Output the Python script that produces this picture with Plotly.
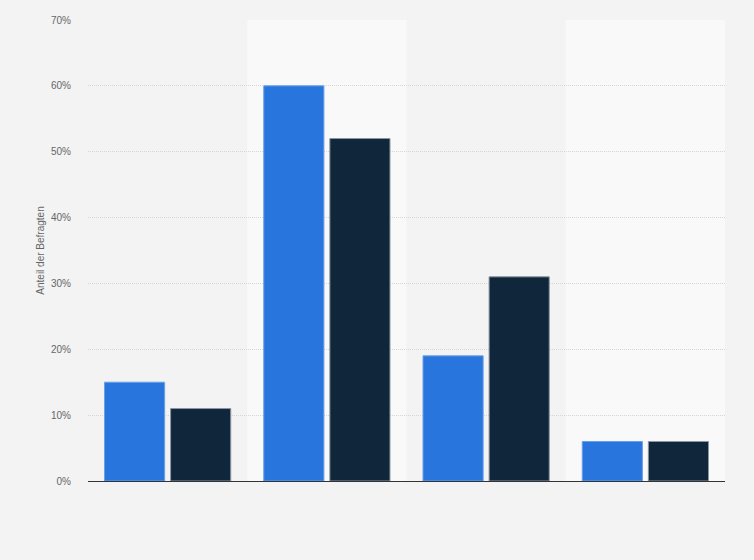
import plotly.graph_objects as go

categories = ["Kategorie 1", "Kategorie 2", "Kategorie 3", "Kategorie 4"]
series_a = [15, 60, 19, 6]
series_b = [11, 52, 31, 6]
y_ticks = [0, 10, 20, 30, 40, 50, 60, 70]
y_tick_labels = ["0%", "10%", "20%", "30%", "40%", "50%", "60%", "70%"]

fig = go.Figure()
fig.add_trace(go.Bar(x=categories, y=series_a, name="Serie A",
                     marker=dict(color="#2876dd", line=dict(color="#6a9fe6", width=1))))
fig.add_trace(go.Bar(x=categories, y=series_b, name="Serie B",
                     marker=dict(color="#10263b", line=dict(color="#8a96a3", width=1))))

shapes = []
for i, _ in enumerate(categories):
    if i % 2 == 1:
        shapes.append(dict(type="rect", xref="x", yref="y domain",
                           x0=i - 0.5, x1=i + 0.5, y0=0, y1=1,
                           fillcolor="#f9f9f9", line=dict(width=0), layer="below"))

fig.update_layout(
    width=754, height=560,
    margin=dict(l=88, r=29, t=20, b=79),
    paper_bgcolor="#f3f3f3", plot_bgcolor="#f3f3f3",
    barmode="group", bargap=0.17, bargroupgap=0.09,
    showlegend=False,
    shapes=shapes,
    font=dict(family="Liberation Sans, Arial, sans-serif", size=10, color="#666666"),
)
fig.update_xaxes(showticklabels=False, showgrid=False, showline=True,
                 linecolor="#333333", linewidth=1, ticks="",
                 range=[-0.5, len(categories) - 0.5])
fig.update_yaxes(range=[0, 70], tickvals=y_ticks, ticktext=y_tick_labels,
                 showgrid=True, gridcolor="#d6d6d6", griddash="1px,1px", gridwidth=1,
                 zeroline=False, showline=False, ticks="",
                 ticklabelstandoff=16,
                 tickfont=dict(size=10, color="#666666"),
                 title=dict(text="Anteil der Befragten", standoff=4,
                            font=dict(size=10, color="#666666")))

fig.write_html("out.html", config={"displayModeBar": False},
               post_script="document.body.style.margin='0';document.body.style.background='#f3f3f3';")
